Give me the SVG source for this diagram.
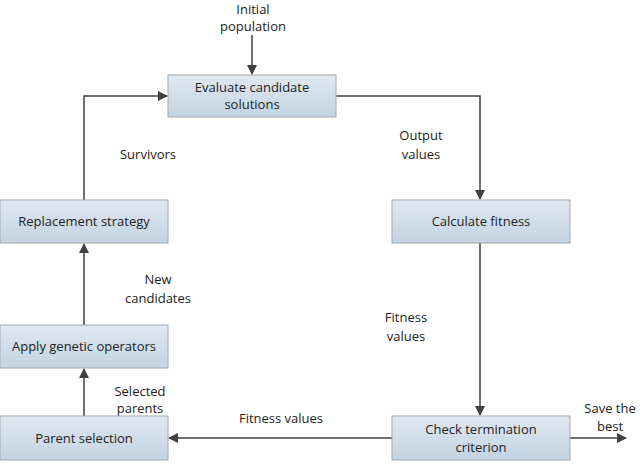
<svg xmlns="http://www.w3.org/2000/svg" width="640" height="470" viewBox="0 0 640 470">
<defs>
<linearGradient id="g" x1="0" y1="0" x2="0" y2="1"><stop offset="0" stop-color="#dfe8f1"/><stop offset="1" stop-color="#c3d3e3"/></linearGradient>
<marker id="a" markerWidth="10" markerHeight="10" refX="9" refY="5" orient="auto" markerUnits="userSpaceOnUse"><path d="M0,0 L10,5 L0,10 z" fill="#404040"/></marker>
</defs>
<style>
rect{fill:url(#g);stroke:#a0a8b0;stroke-width:1}
text{font-family:"Open Sans","Liberation Sans",sans-serif;font-size:13px;fill:#222;text-anchor:middle}
.c{fill:none;stroke:#404040;stroke-width:1.5;marker-end:url(#a)}
</style>
<g id="connectors">
<path class="c" d="M252,35 V74"/>
<path class="c" d="M336,96 H480 V199"/>
<path class="c" d="M480,243 V415"/>
<path class="c" d="M392,438 H169"/>
<path class="c" d="M570,438 H626"/>
<path class="c" d="M84,416 V369"/>
<path class="c" d="M84,325 V244"/>
<path class="c" d="M84,200 V96 H167"/>
</g>
<g id="labels">
<text x="253" y="14" font-size="12.5">Initial</text><text x="253" y="31" font-size="12.5">population</text>
<text x="421" y="140">Output</text><text x="421" y="159">values</text>
<text x="148" y="159">Survivors</text>
<text x="158" y="284">New</text><text x="158" y="303">candidates</text>
<text x="406" y="322">Fitness</text><text x="406" y="341">values</text>
<text x="140" y="396">Selected</text><text x="140" y="413">parents</text>
<text x="281" y="423">Fitness values</text>
<text x="610" y="413">Save the</text><text x="610" y="431">best</text>
</g>
<g id="n1"><rect x="168" y="75" width="168" height="42"/><text x="252" y="92">Evaluate candidate</text><text x="252" y="109">solutions</text></g>
<g id="n2"><rect x="392" y="200" width="178" height="43"/><text x="481" y="226">Calculate fitness</text></g>
<g id="n3"><rect x="0" y="200" width="168" height="43"/><text x="84" y="226">Replacement strategy</text></g>
<g id="n4"><rect x="0" y="325" width="168" height="43"/><text x="84" y="351">Apply genetic operators</text></g>
<g id="n5"><rect x="0" y="416" width="168" height="44"/><text x="84" y="443">Parent selection</text></g>
<g id="n6"><rect x="392" y="416" width="178" height="44"/><text x="481" y="434">Check termination</text><text x="481" y="452">criterion</text></g>
</svg>
